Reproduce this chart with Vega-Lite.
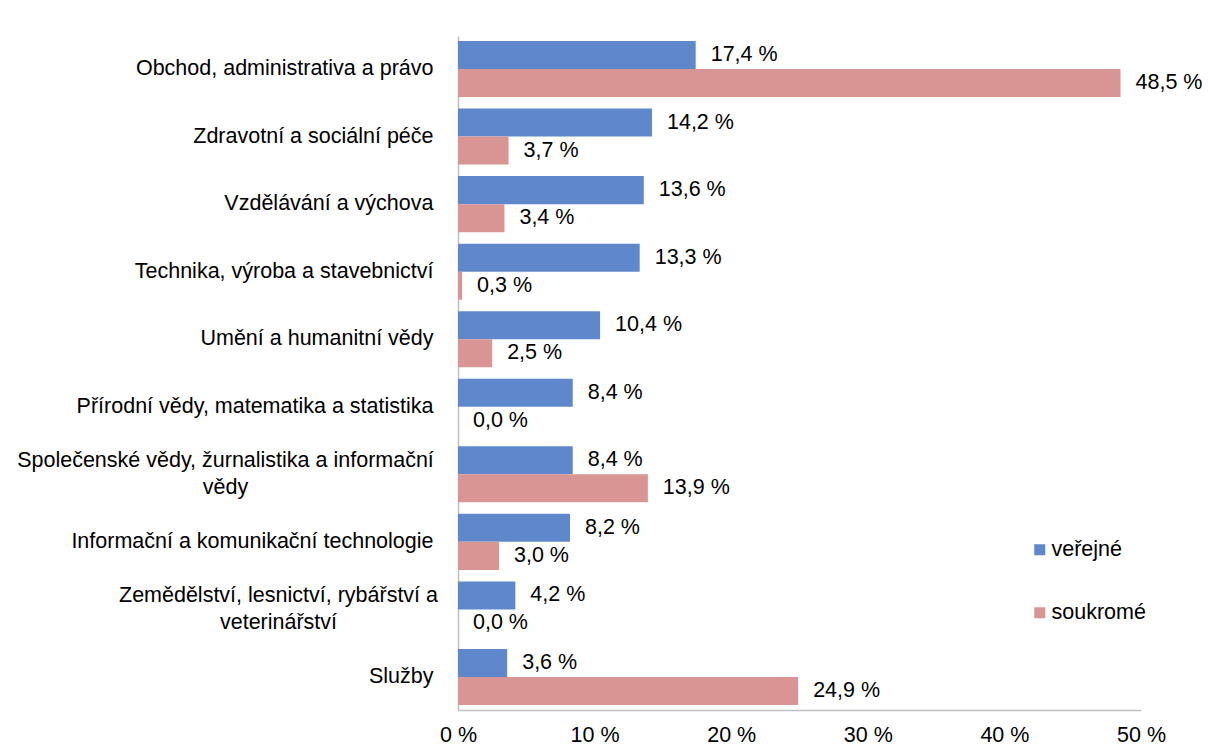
{
  "$schema": "https://vega.github.io/schema/vega-lite/v6.json",
  "width": 683,
  "height": 674,
  "autosize": {"type": "none"},
  "padding": {"left": 458, "top": 36, "right": 67, "bottom": 39},
  "background": "white",
  "config": {
    "view": {"stroke": null},
    "font": "Liberation Sans",
    "axis": {"labelFont": "Liberation Sans", "labelFontSize": 21.5, "labelColor": "#000000"},
    "legend": {"labelFont": "Liberation Sans", "labelFontSize": 21.5, "labelColor": "#000000"}
  },
  "data": {
    "values": [
      {"obor": "Obchod, administrativa a právo", "typ": "veřejné", "podil": 17.4},
      {"obor": "Obchod, administrativa a právo", "typ": "soukromé", "podil": 48.5},
      {"obor": "Zdravotní a sociální péče", "typ": "veřejné", "podil": 14.2},
      {"obor": "Zdravotní a sociální péče", "typ": "soukromé", "podil": 3.7},
      {"obor": "Vzdělávání a výchova", "typ": "veřejné", "podil": 13.6},
      {"obor": "Vzdělávání a výchova", "typ": "soukromé", "podil": 3.4},
      {"obor": "Technika, výroba a stavebnictví", "typ": "veřejné", "podil": 13.3},
      {"obor": "Technika, výroba a stavebnictví", "typ": "soukromé", "podil": 0.3},
      {"obor": "Umění a humanitní vědy", "typ": "veřejné", "podil": 10.4},
      {"obor": "Umění a humanitní vědy", "typ": "soukromé", "podil": 2.5},
      {"obor": "Přírodní vědy, matematika a statistika", "typ": "veřejné", "podil": 8.4},
      {"obor": "Přírodní vědy, matematika a statistika", "typ": "soukromé", "podil": 0.0},
      {"obor": "Společenské vědy, žurnalistika a informační vědy", "typ": "veřejné", "podil": 8.4},
      {"obor": "Společenské vědy, žurnalistika a informační vědy", "typ": "soukromé", "podil": 13.9},
      {"obor": "Informační a komunikační technologie", "typ": "veřejné", "podil": 8.2},
      {"obor": "Informační a komunikační technologie", "typ": "soukromé", "podil": 3.0},
      {"obor": "Zemědělství, lesnictví, rybářství a veterinářství", "typ": "veřejné", "podil": 4.2},
      {"obor": "Zemědělství, lesnictví, rybářství a veterinářství", "typ": "soukromé", "podil": 0.0},
      {"obor": "Služby", "typ": "veřejné", "podil": 3.6},
      {"obor": "Služby", "typ": "soukromé", "podil": 24.9}
    ]
  },
  "transform": [
    {"calculate": "replace(format(datum.podil, '.1f'), '.', ',') + ' %'", "as": "popisek"}
  ],
  "encoding": {
    "y": {
      "field": "obor",
      "type": "nominal",
      "sort": [
        "Obchod, administrativa a právo",
        "Zdravotní a sociální péče",
        "Vzdělávání a výchova",
        "Technika, výroba a stavebnictví",
        "Umění a humanitní vědy",
        "Přírodní vědy, matematika a statistika",
        "Společenské vědy, žurnalistika a informační vědy",
        "Informační a komunikační technologie",
        "Zemědělství, lesnictví, rybářství a veterinářství",
        "Služby"
      ],
      "scale": {"paddingInner": 0.17, "paddingOuter": 0.074},
      "axis": {
        "title": null,
        "ticks": false,
        "domain": true,
        "domainColor": "#BFBFBF",
        "domainWidth": 1.5,
        "labelLimit": 600,
        "labelLineHeight": 27,
        "labelBaseline": "middle",
        "labelAlign": {
          "condition": {"test": "indexof(datum.value, 'Společenské') == 0 || indexof(datum.value, 'Zemědělství') == 0", "value": "center"},
          "value": "right"
        },
        "labelPadding": {
          "condition": [
            {"test": "indexof(datum.value, 'Společenské') == 0", "value": 233},
            {"test": "indexof(datum.value, 'Zemědělství') == 0", "value": 180}
          ],
          "value": 25
        },
        "labelOffset": {
          "condition": {"test": "indexof(datum.value, 'Společenské') == 0 || indexof(datum.value, 'Zemědělství') == 0", "value": -13.5},
          "value": 0
        },
        "labelExpr": "datum.label == 'Společenské vědy, žurnalistika a informační vědy' ? ['Společenské vědy, žurnalistika a informační', 'vědy'] : datum.label == 'Zemědělství, lesnictví, rybářství a veterinářství' ? ['Zemědělství, lesnictví, rybářství a', 'veterinářství'] : datum.label"
      }
    },
    "yOffset": {"field": "typ", "type": "nominal", "sort": ["veřejné", "soukromé"]},
    "x": {
      "field": "podil",
      "type": "quantitative",
      "scale": {"domain": [0, 50]},
      "axis": {
        "title": null,
        "values": [0, 10, 20, 30, 40, 50],
        "grid": false,
        "ticks": false,
        "domainColor": "#BFBFBF",
        "domainWidth": 1.5,
        "labelPadding": 14,
        "labelExpr": "datum.value + ' %'",
        "labelFlush": false
      }
    }
  },
  "layer": [
    {
      "mark": {"type": "bar"},
      "encoding": {
        "color": {
          "field": "typ",
          "type": "nominal",
          "sort": ["veřejné", "soukromé"],
          "scale": {"domain": ["veřejné", "soukromé"], "range": ["#5F88CC", "#D99594"]},
          "legend": {
            "title": null,
            "orient": "none",
            "legendX": 571,
            "legendY": 503,
            "symbolType": "square",
            "symbolSize": 121,
            "symbolStrokeWidth": 0,
            "rowPadding": 40,
            "labelOffset": 1
          }
        }
      }
    },
    {
      "mark": {"type": "text", "align": "left", "baseline": "middle", "dx": 15, "fontSize": 21.5, "color": "#000000"},
      "encoding": {"text": {"field": "popisek"}}
    }
  ]
}
